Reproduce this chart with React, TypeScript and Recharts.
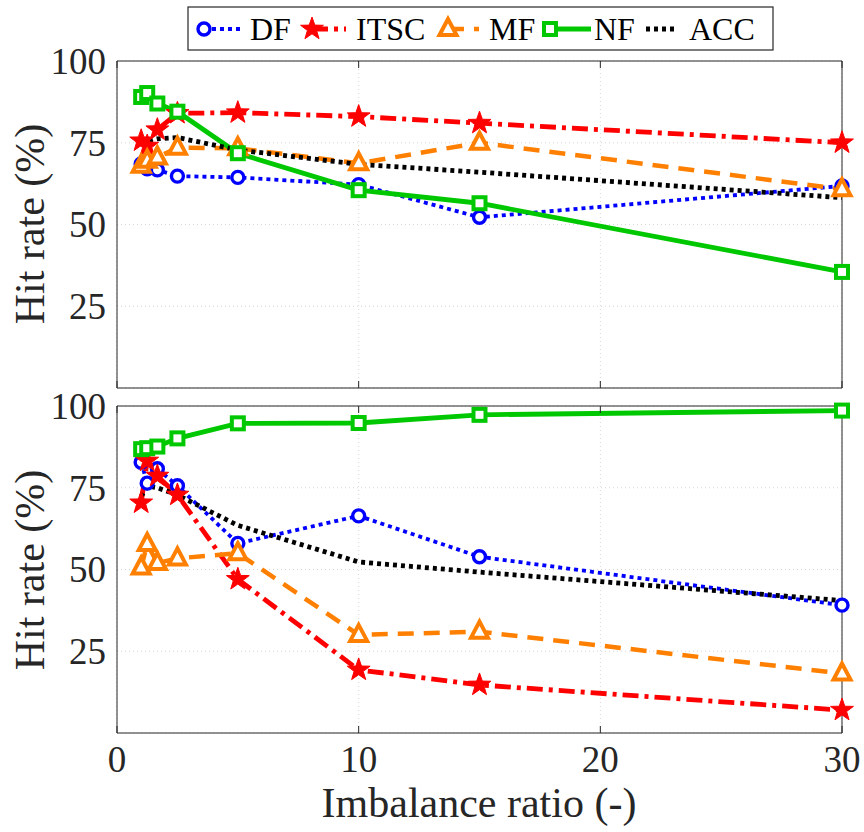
import React from "react";
import { LineChart, Line, XAxis, YAxis, CartesianGrid } from "recharts";

// imbalance ratios on the x axis
const RATIOS = [1, 1.25, 1.67, 2.5, 5, 10, 15, 30];
const X_TICKS = [0, 10, 20, 30];
const Y_TICKS = [25, 50, 75, 100];
const Y_TICKS_ALL = [0, 25, 50, 75, 100];

// upper panel
const DF_TOP = [68.5, 67, 66.7, 64.8, 64.4, 62.2, 52.2, 61.8];
const ITSC_TOP = [75.6, 74, 79, 84, 84.2, 83, 81, 75];
const MF_TOP = [68, 69.5, 70.5, 73.5, 73.3, 68.7, 75, 60.8];
const NF_TOP = [89, 90.2, 87, 84.5, 71.8, 60.5, 56.5, 35.5];
const ACC_TOP = [75, 75.6, 76.2, 76.6, 72.8, 68.4, 66, 58.2];

// lower panel
const DF_BOTTOM = [82.8, 76.4, 80.8, 75.6, 58, 66.4, 53.9, 39.1];
const ITSC_BOTTOM = [70.4, 83.2, 78.6, 72.8, 47, 19.3, 14.7, 7];
const MF_BOTTOM = [50.6, 57.8, 52, 53.4, 55, 30, 31, 18.2];
const NF_BOTTOM = [86.8, 87.1, 87.6, 90.1, 94.7, 94.8, 97.3, 98.6];
const ACC_BOTTOM = [72.3, 75.5, 75, 72.8, 63.5, 52.3, 49.2, 40.5];

const FONT = "'Liberation Serif', 'Times New Roman', serif";
const AXIS = "#262626";

type Shape = "circle" | "star" | "triangle" | "square" | "none";

const SERIES: { key: string; color: string; dash?: string; width: number; shape: Shape }[] = [
  { key: "DF", color: "#0000ff", dash: "4 4", width: 3.8, shape: "circle" },
  { key: "ITSC", color: "#ff0000", dash: "16 6 4 6", width: 4.8, shape: "star" },
  { key: "MF", color: "#ff8000", dash: "16 10", width: 4.5, shape: "triangle" },
  { key: "NF", color: "#00c800", width: 4.8, shape: "square" },
  { key: "ACC", color: "#000000", dash: "4 4", width: 4.8, shape: "none" },
];

function rows(df: number[], itsc: number[], mf: number[], nf: number[], acc: number[]) {
  return RATIOS.map((x, i) => ({ x, DF: df[i], ITSC: itsc[i], MF: mf[i], NF: nf[i], ACC: acc[i] }));
}

const TOP_DATA = rows(DF_TOP, ITSC_TOP, MF_TOP, NF_TOP, ACC_TOP);
const BOTTOM_DATA = rows(DF_BOTTOM, ITSC_BOTTOM, MF_BOTTOM, NF_BOTTOM, ACC_BOTTOM);

function starPoints(cx: number, cy: number, R: number, r: number) {
  const pts: string[] = [];
  for (let i = 0; i < 10; i++) {
    const rad = i % 2 === 0 ? R : r;
    const a = -Math.PI / 2 + (i * Math.PI) / 5;
    pts.push(`${cx + rad * Math.cos(a)},${cy + rad * Math.sin(a)}`);
  }
  return pts.join(" ");
}

function Marker({ cx, cy, shape, color }: { cx?: number; cy?: number; shape: Shape; color: string }) {
  if (cx == null || cy == null || shape === "none") return null;
  if (shape === "circle")
    return <circle cx={cx} cy={cy} r={6} fill="#fff" stroke={color} strokeWidth={3.4} />;
  if (shape === "star")
    return <polygon points={starPoints(cx, cy, 12, 4.8)} fill={color} stroke={color} strokeWidth={1} />;
  if (shape === "triangle")
    return (
      <polygon
        points={`${cx},${cy - 10} ${cx - 8.5},${cy + 6} ${cx + 8.5},${cy + 6}`}
        fill="#fff"
        stroke={color}
        strokeWidth={4}
        strokeLinejoin="miter"
      />
    );
  return <rect x={cx - 6} y={cy - 6} width={12} height={12} fill="#fff" stroke={color} strokeWidth={4} />;
}

const blank = () => "";

function YTick({ x, y, payload }: any) {
  return (
    <text x={x} y={y} dy="0.35em" textAnchor="end" fontFamily={FONT} fontSize={37} fill={AXIS}>
      {payload.value}
    </text>
  );
}

function XTick({ x, y, payload }: any) {
  return (
    <text x={x} y={y} dy="0.71em" textAnchor="middle" fontFamily={FONT} fontSize={37} fill={AXIS}>
      {payload.value}
    </text>
  );
}

function Panel({ data, showX }: { data: Record<string, number>[]; showX: boolean }) {
  const height = showX ? 452 : 400;
  return (
    <LineChart
      width={864}
      height={height}
      data={data}
      style={{ fontFamily: FONT, overflow: "visible" }}
      margin={showX ? { top: 26, right: 22, bottom: 0, left: 57 } : { top: 61, right: 22, bottom: 12, left: 57 }}
    >
      <CartesianGrid xAxisId="b" yAxisId="l" stroke="#d6d6d6" strokeDasharray="1 3" />
      {/* box edges with inward ticks, MATLAB style */}
      <XAxis xAxisId="t" orientation="top" mirror type="number" dataKey="x" domain={[0, 30]} ticks={X_TICKS}
        tickFormatter={blank} tickSize={7} stroke={AXIS} />
      {showX ? (
        <XAxis xAxisId="b" orientation="bottom" type="number" dataKey="x" domain={[0, 30]} ticks={X_TICKS}
          height={99} tickLine={false} tickSize={0} tickMargin={13} stroke={AXIS} tick={<XTick />} />
      ) : (
        <XAxis xAxisId="b" orientation="bottom" mirror type="number" dataKey="x" domain={[0, 30]} ticks={X_TICKS}
          tickFormatter={blank} tickSize={7} stroke={AXIS} />
      )}
      {showX && (
        <XAxis xAxisId="b2" orientation="bottom" mirror type="number" dataKey="x" domain={[0, 30]} ticks={X_TICKS}
          tickFormatter={blank} tickSize={7} axisLine={false} stroke={AXIS} />
      )}
      <YAxis yAxisId="l" orientation="left" width={60} type="number" domain={[0, 100]} ticks={Y_TICKS}
        tickLine={false} tickSize={0} tickMargin={11} stroke={AXIS} tick={<YTick />} />
      <YAxis yAxisId="l2" orientation="left" mirror type="number" domain={[0, 100]} ticks={Y_TICKS_ALL}
        tickFormatter={blank} tickSize={7} axisLine={false} stroke={AXIS} />
      <YAxis yAxisId="r" orientation="right" mirror type="number" domain={[0, 100]} ticks={Y_TICKS_ALL}
        tickFormatter={blank} tickSize={7} stroke={AXIS} />
      {SERIES.map((s) => (
        <Line
          key={s.key}
          xAxisId="b"
          yAxisId="l"
          type="linear"
          dataKey={s.key}
          stroke={s.color}
          strokeWidth={s.width}
          strokeDasharray={s.dash}
          dot={(p: any) => <Marker key={`${s.key}-${p.index}`} cx={p.cx} cy={p.cy} shape={s.shape} color={s.color} />}
          activeDot={false}
          isAnimationActive={false}
        />
      ))}
    </LineChart>
  );
}

// legend slots: marker x, line span, text x (relative to the legend box)
const LEGEND_SLOTS = [
  { marker: 17, lineFrom: 17, lineTo: 54, text: 63 },
  { marker: 125, lineFrom: 125, lineTo: 159, text: 169 },
  { marker: 261, lineFrom: 261, lineTo: 292, text: 302 },
  { marker: 363, lineFrom: 363, lineTo: 404, text: 407 },
  { marker: 0, lineFrom: 459, lineTo: 488, text: 502 },
];

function LegendBox() {
  return (
    <svg width={587} height={45} style={{ position: "absolute", left: 187, top: 6 }}>
      <rect x={1} y={1} width={585} height={43} fill="#fff" stroke={AXIS} strokeWidth={1.2} />
      {SERIES.map((s, i) => {
        const slot = LEGEND_SLOTS[i];
        return (
          <g key={s.key}>
            <line x1={slot.lineFrom} x2={slot.lineTo} y1={23} y2={23} stroke={s.color}
              strokeWidth={s.width} strokeDasharray={s.dash} />
            <Marker cx={slot.marker} cy={23} shape={s.shape} color={s.color} />
            <text x={slot.text} y={34} fontSize={32} fontFamily={FONT} fill="#000">{s.key}</text>
          </g>
        );
      })}
    </svg>
  );
}

export default function App() {
  return (
    <div style={{ position: "absolute", left: 0, top: 0, width: 864, height: 832, background: "#fff", fontFamily: FONT }}>
      <div style={{ position: "absolute", left: 0, top: 0 }}>
        <Panel data={TOP_DATA} showX={false} />
      </div>
      <div style={{ position: "absolute", left: 0, top: 380 }}>
        <Panel data={BOTTOM_DATA} showX={true} />
      </div>
      <svg width={864} height={832} style={{ position: "absolute", left: 0, top: 0, pointerEvents: "none" }}>
        {[224, 570].map((cy) => (
          <text key={cy} x={44} y={cy} transform={`rotate(-90, 44, ${cy})`} textAnchor="middle"
            fontSize={42} fontFamily={FONT} fill={AXIS}>Hit rate (%)</text>
        ))}
        <text x={479} y={817} textAnchor="middle" fontSize={42} fontFamily={FONT} fill={AXIS}>
          Imbalance ratio (-)
        </text>
      </svg>
      <LegendBox />
    </div>
  );
}
